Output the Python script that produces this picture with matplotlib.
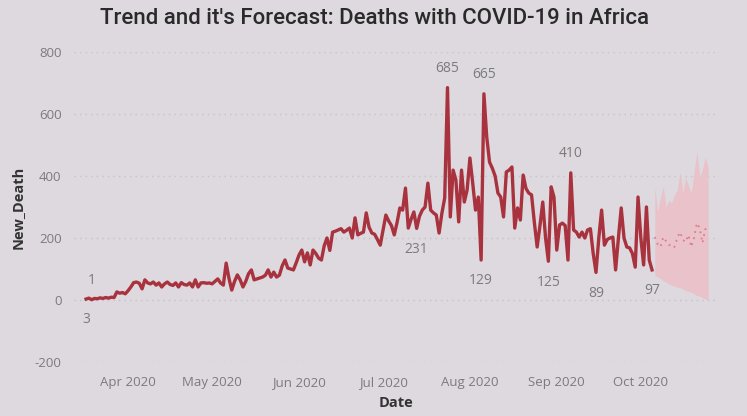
import matplotlib
matplotlib.use("Agg")
import matplotlib.pyplot as plt
import matplotlib.dates as mdates
import pandas as pd
import numpy as np

plt.rcParams["axes.unicode_minus"] = False

# ---------------- data ----------------
start_date = "2020-03-17"
new_death = [
    3, 6, 1, 5, 4, 7, 5, 8, 6, 9,
    8, 26, 22, 24, 20, 30, 42, 56, 58, 54,
    36, 65, 55, 52, 58, 48, 55, 42, 52, 58,
    50, 47, 55, 42, 56, 50, 48, 55, 42, 65,
    42, 55, 56, 54, 55, 52, 60, 68, 55, 48,
    119, 70, 32, 60, 81, 65, 42, 60, 85, 97,
    65, 68, 71, 74, 80, 97, 74, 90, 74, 80,
    110, 129, 103, 100, 97, 120, 145, 161, 123, 152,
    113, 161, 150, 135, 129, 175, 200, 160, 219, 222,
    226, 230, 219, 225, 232, 200, 265, 210, 215, 219,
    281, 235, 216, 212, 195, 177, 226, 274, 255, 240,
    210, 250, 297, 290, 361, 232, 260, 284, 231, 270,
    290, 300, 377, 290, 281, 274, 216, 280, 329, 685,
    268, 419, 387, 252, 419, 316, 355, 458, 377, 290,
    332, 129, 665, 526, 445, 425, 400, 345, 332, 268,
    413, 419, 429, 232, 297, 258, 403, 360, 345, 339,
    250, 171, 240, 316, 200, 125, 365, 332, 161, 242,
    248, 240, 129, 410, 226, 219, 203, 219, 200, 226,
    230, 150, 89, 200, 290, 177, 195, 200, 203, 97,
    200, 297, 200, 171, 168, 150, 106, 332, 200, 113,
    300, 129, 97,
]
forecast_mid = [203, 180, 171, 203, 190, 177, 180, 171, 200, 219,
                194, 187, 210, 171, 200, 248, 232, 184, 229, 225]
forecast_upper = [361, 284, 330, 365, 300, 323, 313, 340, 355, 413,
                  345, 394, 370, 345, 413, 477, 397, 420, 461, 429]
forecast_lower = [80, 75, 70, 62, 58, 52, 48, 45, 42, 40,
                  36, 30, 28, 25, 20, 15, 12, 8, 4, 0]
labeled_index = [0, 2, 118, 129, 141, 142, 165, 173, 182, 202]
label_above = [False, True, False, True, False, True, False, True, False, False]
y_ticks = [-200, 0, 200, 400, 600, 800]

# ---------------- figure ----------------
BG = "#ddd9de"
LINE = "#a8323e"
BAND = "#e9c2ca"
TXT = "#7b7b7b"
FONT = ["Open Sans", "DejaVu Sans"]

dates = pd.date_range(start_date, periods=len(new_death), freq="D")
fdates = pd.date_range(dates[-1] + pd.Timedelta(days=1), periods=len(forecast_mid), freq="D")

fig = plt.figure(figsize=(7.47, 4.16), dpi=100, facecolor=BG)
ax = fig.add_axes([74 / 747, 1 - 362 / 416, (719 - 74) / 747, (362 - 52) / 416])
ax.set_facecolor(BG)

ax.fill_between(fdates, forecast_lower, forecast_upper, color=BAND, lw=0, zorder=2)
ax.plot(fdates, forecast_mid, color="#dc7d8c", lw=1.3, ls=(0, (1, 2.5)), zorder=3)
ax.plot(dates, new_death, color=LINE, lw=2.4, solid_joinstyle="round", zorder=4)

for i, above in zip(labeled_index, label_above):
    ax.annotate(str(new_death[i]), (dates[i], new_death[i]),
                xytext=(0, 14 if above else -15), textcoords="offset points",
                ha="center", va="center", fontsize=10, color=TXT, family=FONT)

ax.set_ylim(-200, 800)
ax.set_yticks(y_ticks)
ax.set_xlim(dates[0] - pd.Timedelta(days=4.3), dates[-1] + pd.Timedelta(days=23.9))
ax.xaxis.set_major_locator(mdates.MonthLocator(bymonthday=1))
ax.xaxis.set_major_formatter(mdates.DateFormatter("%b %Y"))
ax.grid(axis="y", color="#c6c2c7", ls=(0, (1, 3)), lw=1.0)
ax.grid(axis="x", visible=False)
for s in ax.spines.values():
    s.set_visible(False)
ax.tick_params(length=0, colors=TXT, labelsize=9.5)
ax.tick_params(axis="x", pad=10)
ax.tick_params(axis="y", pad=9)
for lab in ax.get_xticklabels() + ax.get_yticklabels():
    lab.set_family(FONT)

ax.set_xlabel("Date", fontsize=10.5, color="#333333", fontweight="bold",
              family=FONT, labelpad=5)
ax.set_ylabel("New_Death", fontsize=10.5, color="#333333", fontweight="bold",
              family=FONT, labelpad=7)

fig.text(374 / 747, 1 - 19 / 416, "Trend and it's Forecast: Deaths with COVID-19 in Africa",
         ha="center", va="center", fontsize=16, color="#2a2a2a",
         family=["Roboto", "DejaVu Sans"], fontweight="medium")

fig.savefig("out.png", dpi=100, facecolor=BG)
